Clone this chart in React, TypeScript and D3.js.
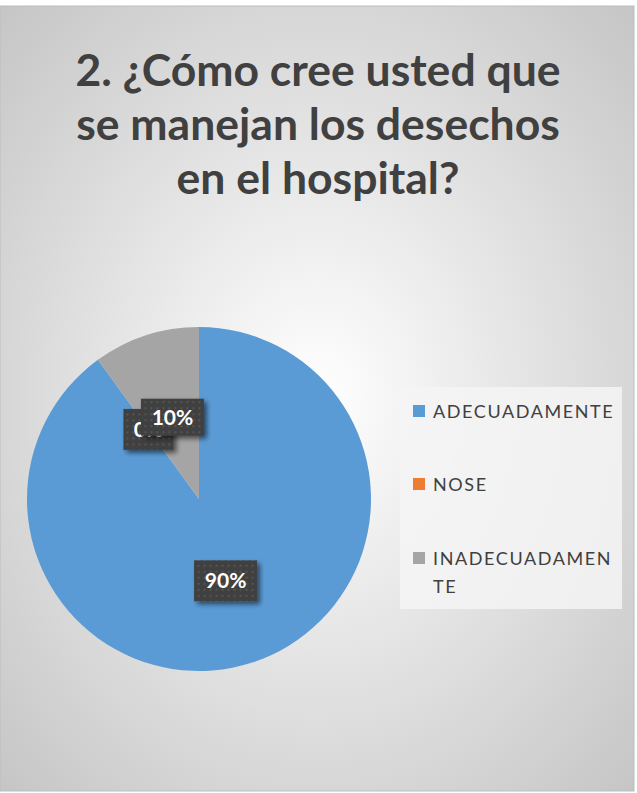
import React from "react";
import * as d3 from "d3";

const categories = ["ADECUADAMENTE", "NOSE", "INADECUADAMENTE"];
const values = [90, 0, 10];
const labels = ["90%", "0%", "10%"];
const colors = ["#5b9bd5", "#ed7d31", "#a5a5a5"];
const legendLines = [["ADECUADAMENTE"], ["NOSE"], ["INADECUADAMEN", "TE"]];
const titleLines = ["2. ¿Cómo cree usted que", "se manejan los desechos", "en el hospital?"];

const W = 637;
const H = 793;

export default function App() {
  const cx = 199, cy = 499, r = 172;
  const pie = d3.pie<number>().sort(null).value((d) => d)(values);
  const arc = d3.arc<any>().innerRadius(0).outerRadius(r);
  const font = "Lato, 'Open Sans', sans-serif";
  const labelOrder = [0, 1, 2];
  return (
    <svg width={W} height={H} style={{ position: "fixed", left: 0, top: 0 }}>
      <defs>
        <radialGradient id="bg" cx="50%" cy="50%" r="70%">
          <stop offset="0%" stopColor="#ffffff" />
          <stop offset="100%" stopColor="#c6c6c6" />
        </radialGradient>
        <pattern id="dots" width="6" height="6" patternUnits="userSpaceOnUse">
          <rect width="6" height="6" fill="#3f3f3f" />
          <rect x="2" y="2" width="2" height="2" fill="#555555" />
        </pattern>
        <filter id="shadow" x="-30%" y="-30%" width="160%" height="160%">
          <feGaussianBlur in="SourceAlpha" stdDeviation="2.5" />
          <feOffset dx="3" dy="3" result="b" />
          <feComponentTransfer><feFuncA type="linear" slope="0.55" /></feComponentTransfer>
          <feMerge><feMergeNode /><feMergeNode in="SourceGraphic" /></feMerge>
        </filter>
      </defs>
      <rect x={0} y={0} width={W} height={H} fill="#ffffff" />
      <rect x={0} y={6} width={634} height={785} fill="url(#bg)" stroke="#bdbdbd" strokeWidth={1} />
      {titleLines.map((t, i) => (
        <text key={i} x={318} y={86 + i * 54} textAnchor="middle" fontFamily={font} fontWeight={700}
          fontSize={44.5} fill="#404040">{t}</text>
      ))}
      <g transform={`translate(${cx},${cy})`}>
        {pie.map((p, i) => (
          <path key={i} d={arc(p) as string} fill={colors[i]} />
        ))}
        {labelOrder.map((i) => {
          const p = pie[i];
          const a = (p.startAngle + p.endAngle) / 2;
          const lx = Math.sin(a) * 86;
          const ly = -Math.cos(a) * 86;
          const w = labels[i].length === 2 ? 50 : 63;
          const h = i === 2 ? 37 : 41;
          return (
            <g key={i} transform={`translate(${lx},${ly})`}>
              <rect x={-w / 2} y={-h / 2} width={w} height={h} fill="url(#dots)" filter="url(#shadow)" />
              <text x={0} y={7.5} textAnchor="middle" fontFamily={font} fontWeight={700} fontSize={21} fill="#ffffff">{labels[i]}</text>
            </g>
          );
        })}
      </g>
      <rect x={400} y={387} width={222} height={222} fill="#f4f4f4" opacity={0.85} />
      {categories.map((c, i) => {
        const my = [411, 484, 558][i];
        return (
          <g key={c}>
            <rect x={413} y={my - 6} width={12} height={12} fill={colors[i]} />
            {legendLines[i].map((ln, j) => (
              <text key={j} x={433} y={my + 7 + j * 28} fontFamily={font} fontSize={18} fill="#404040" letterSpacing={1.6}>{ln}</text>
            ))}
          </g>
        );
      })}
    </svg>
  );
}
